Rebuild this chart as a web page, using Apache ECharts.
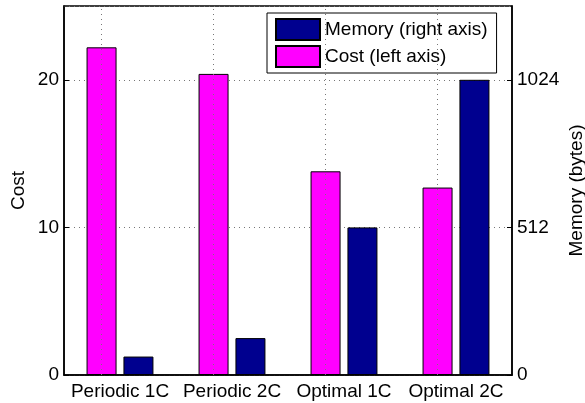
<!DOCTYPE html>
<html>
<head>
<meta charset="utf-8">
<script src="https://cdn.jsdelivr.net/npm/echarts@6/dist/echarts.min.js"></script>
<style>
  html, body { margin: 0; padding: 0; background: #fff; }
  #chart { width: 585px; height: 403px; }
</style>
</head>
<body>
<div id="chart"></div>
<script>
// Schemes compared
const categories = ['Periodic 1C', 'Periodic 2C', 'Optimal 1C', 'Optimal 2C'];
// Cost per scheme (left axis)
const costValues = [22.2, 20.4, 13.8, 12.7];
// Memory use in bytes (right axis)
const memoryValues = [64, 128, 512, 1024];
// Axis settings
const costTicks = { min: 0, max: 25, interval: 10 };
const memoryTicks = { min: 0, max: 1280, interval: 512 };

const FONT = 'Liberation Sans, Arial, Helvetica, sans-serif';
const FS = 19;
const dotted = { color: '#777', type: [1, 4], width: 1 };

const chart = echarts.init(document.getElementById('chart'));
chart.setOption({
  animation: false,
  textStyle: { fontFamily: FONT },
  grid: {
    left: 64, right: 73, top: 6, bottom: 28,
    outerBoundsMode: 'none',
    containLabel: false,
    show: true, borderColor: '#000', borderWidth: 1.5, backgroundColor: '#fff'
  },
  legend: {
    orient: 'vertical',
    left: 267, top: 13,
    data: ['Memory (right axis)', 'Cost (left axis)'],
    itemWidth: 44, itemHeight: 21, itemGap: 4,
    padding: [5, 9, 5, 8],
    borderColor: '#000', borderWidth: 1, backgroundColor: '#fff',
    textStyle: { fontSize: FS, color: '#000', fontFamily: FONT },
    icon: 'rect'
  },
  xAxis: [{
    type: 'category',
    data: categories,
    position: 'bottom',
    axisLine: { lineStyle: { color: '#000', width: 1.5 } },
    axisTick: { inside: true, alignWithLabel: true, interval: 0, length: 5, lineStyle: { color: '#000' } },
    axisLabel: { interval: 0, fontSize: FS, color: '#000', margin: 7, fontFamily: FONT },
    splitLine: { show: false }
  }, {
    type: 'category',
    data: categories,
    position: 'top',
    axisLine: { show: false },
    axisTick: { inside: true, alignWithLabel: true, interval: 0, length: 5, lineStyle: { color: '#000' } },
    axisLabel: { show: false },
    splitLine: { show: false }
  }],
  yAxis: [{
    type: 'value',
    name: 'Cost',
    nameLocation: 'middle',
    nameGap: 36,
    nameMoveOverlap: false,
    nameTextStyle: { fontSize: FS, color: '#000', fontFamily: FONT },
    min: costTicks.min, max: costTicks.max, interval: costTicks.interval,
    position: 'left',
    axisLine: { show: true, lineStyle: { color: '#000', width: 1.5 } },
    axisTick: { show: true, inside: true, length: 5, lineStyle: { color: '#000' } },
    axisLabel: { fontSize: FS, color: '#000', margin: 5, showMaxLabel: false, fontFamily: FONT },
    splitLine: { show: true, lineStyle: dotted }
  }, {
    type: 'value',
    name: 'Memory (bytes)',
    nameLocation: 'middle',
    nameGap: 55,
    nameRotate: 90,
    nameMoveOverlap: false,
    nameTextStyle: { fontSize: FS, color: '#000', fontFamily: FONT },
    min: memoryTicks.min, max: memoryTicks.max, interval: memoryTicks.interval,
    position: 'right',
    axisLine: { show: true, lineStyle: { color: '#000', width: 1.5 } },
    axisTick: { show: true, inside: true, length: 5, lineStyle: { color: '#000' } },
    axisLabel: {
      fontSize: FS, color: '#000', margin: 5, showMaxLabel: false, fontFamily: FONT,
      formatter: v => String(v)
    },
    splitLine: { show: false }
  }],
  series: [{
    name: 'Cost (left axis)',
    type: 'bar',
    yAxisIndex: 0,
    data: costValues,
    barWidth: 30,
    barGap: '23%',
    itemStyle: { color: '#ff00ff', borderColor: '#000', borderWidth: 1 },
    // dotted vertical grid lines through each category centre
    markLine: {
      silent: true,
      symbol: 'none',
      label: { show: false },
      lineStyle: dotted,
      data: categories.map(c => ({ xAxis: c }))
    }
  }, {
    name: 'Memory (right axis)',
    type: 'bar',
    yAxisIndex: 1,
    data: memoryValues,
    barWidth: 30,
    barGap: '23%',
    itemStyle: { color: '#00008f', borderColor: '#000', borderWidth: 1 }
  }]
});
</script>
</body>
</html>
